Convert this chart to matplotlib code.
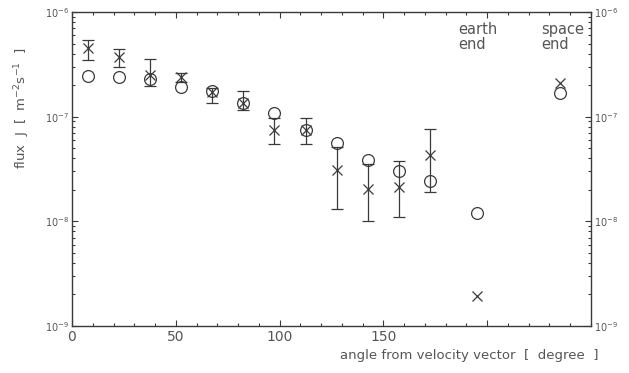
import numpy as np
import matplotlib.pyplot as plt
from matplotlib.ticker import MultipleLocator, FixedLocator, NullFormatter

# angle bins (degree) and the two end positions
angle = [7.5, 22.5, 37.5, 52.5, 67.5, 82.5, 97.5, 112.5, 127.5, 142.5, 157.5, 172.5]
end_pos = [195, 235]
end_labels = ["earth\nend", "space\nend"]

# crosses with error bars
flux_x = [4.53e-7, 3.72e-7, 2.5e-7, 2.39e-7, 1.72e-7, 1.35e-7,
          7.46e-8, 7.46e-8, 3.1e-8, 2.04e-8, 2.13e-8, 4.31e-8]
flux_x_hi = [5.4e-7, 4.43e-7, 3.56e-7, 2.61e-7, 1.88e-7, 1.76e-7,
             9.7e-8, 9.7e-8, 5.14e-8, 3.53e-8, 3.78e-8, 7.63e-8]
flux_x_lo = [3.48e-7, 2.98e-7, 1.96e-7, 2.14e-7, 1.35e-7, 1.16e-7,
             5.48e-8, 5.48e-8, 1.31e-8, 1.01e-8, 1.1e-8, 1.91e-8]
# circles
flux_o = [2.45e-7, 2.39e-7, 2.29e-7, 1.92e-7, 1.76e-7, 1.35e-7,
          1.08e-7, 7.46e-8, 5.61e-8, 3.86e-8, 3.03e-8, 2.43e-8]

# end values
end_x = [1.94e-9, 2.1e-7]
end_o = [1.2e-8, 1.68e-7]

ink = '#3a3a3a'
txt = '#555555'

fig = plt.figure(figsize=(6.29, 3.73), dpi=100)
ax = fig.add_axes([72/629, 1-326/373, (591-72)/629, (326-12)/373])

yerr = [np.array(flux_x) - np.array(flux_x_lo), np.array(flux_x_hi) - np.array(flux_x)]
ax.errorbar(angle, flux_x, yerr=yerr, fmt='x', color=ink, ms=7, mew=0.9,
            elinewidth=0.9, capsize=4.5, capthick=0.9)
ax.plot(angle, flux_o, 'o', mfc='none', mec=ink, ms=8.5, mew=0.9)
ax.plot(end_pos, end_x, 'x', color=ink, ms=7, mew=0.9)
ax.plot(end_pos, end_o, 'o', mfc='none', mec=ink, ms=8.5, mew=0.9)

for xp, lab in zip(end_pos, end_labels):
    ax.text(xp - 9, 8.1e-7, lab, ha='left', va='top', fontsize=10.5,
            color=txt, linespacing=1.05)

ax.set_yscale('log')
ax.set_xlim(0, 250)
ax.set_ylim(1e-9, 1e-6)
ax.xaxis.set_minor_locator(MultipleLocator(10))
ax.set_xticks([0, 50, 100, 150, 200])
ax.set_xticklabels(['0', '50', '100', '150', ''])
ax.set_yticks([1e-9, 1e-8, 1e-7, 1e-6])
minor_y = [m * 10.0**e for e in (-9, -8, -7) for m in range(2, 10)]
ax.yaxis.set_minor_locator(FixedLocator(minor_y))
ax.yaxis.set_minor_formatter(NullFormatter())

ax.tick_params(which='both', direction='in', top=True, right=True,
               labelright=True, color=ink, width=0.8)
ax.tick_params(which='major', length=4)
ax.tick_params(which='minor', length=2.5)
ax.tick_params(axis='x', labelsize=10, labelcolor=txt, pad=3)
ax.tick_params(axis='y', labelsize=7, labelcolor=txt, pad=2)
for s in ax.spines.values():
    s.set_color(ink)
    s.set_linewidth(1.0)

fig.text(22/629, 1-108/373, 'flux  J  [  m$^{-2}$s$^{-1}$  ]', rotation=90,
         ha='center', va='center', fontsize=9.5, color=txt)
fig.text(598/629, 1-355/373, 'angle from velocity vector  [  degree  ]',
         ha='right', va='center', fontsize=9.5, color=txt)

fig.savefig('out.png', dpi=100)
